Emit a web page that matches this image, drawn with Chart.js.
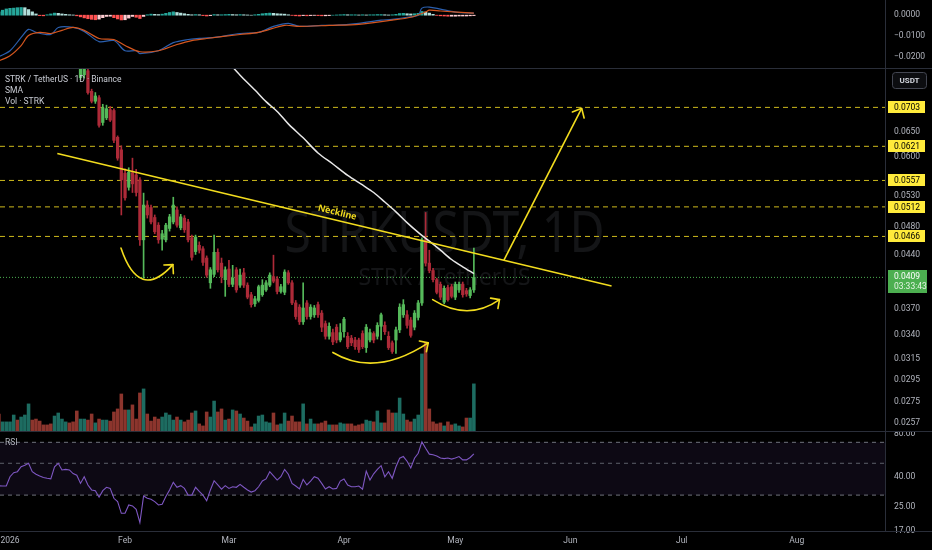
<!DOCTYPE html>
<html lang="en">
<head>
<meta charset="UTF-8">
<title>STRKUSDT 1D</title>
<script src="https://cdn.jsdelivr.net/npm/chart.js"></script>
<style>
  html, body { margin: 0; padding: 0; background: #000; }
  #wrap { position: relative; width: 932px; height: 550px; overflow: hidden; background: #000; }
  #wrap canvas { position: absolute; left: 0; }
</style>
</head>
<body>
<div id="wrap">
  <canvas id="macdChart" width="932" height="68" style="top:0"></canvas>
  <canvas id="priceChart" width="932" height="364" style="top:68px"></canvas>
  <canvas id="rsiChart" width="932" height="118" style="top:432px"></canvas>
</div>
<script>
// day 0 = 1 Jan 2026, first candle is 29 Dec 2025
const firstDay = -3;
const monthDays = [0, 31, 59, 90, 120, 151, 181, 212];
const monthLabels = ['2026', 'Feb', 'Mar', 'Apr', 'May', 'Jun', 'Jul', 'Aug'];

const open = [
  0.0935,0.0912,0.0940,0.0962,0.0978,0.1005,0.0975,0.1002,0.1025,0.1060,
  0.1022,0.0990,0.0972,0.0965,0.0955,0.0945,0.0975,0.1002,0.1010,0.1015,
  0.0985,0.0945,0.0773,0.0780,0.0790,0.0740,0.0717,0.0725,0.0670,0.0680,
  0.0698,0.0696,0.0639,0.0614,0.0570,0.0545,0.0571,0.0567,0.0558,0.0461,
  0.0515,0.0511,0.0495,0.0483,0.0462,0.0461,0.0478,0.0488,0.0507,0.0479,
  0.0494,0.0488,0.0464,0.0444,0.0453,0.0448,0.0435,0.0402,0.0413,0.0443,
  0.0428,0.0406,0.0420,0.0400,0.0419,0.0399,0.0415,0.0399,0.0387,0.0376,
  0.0380,0.0387,0.0393,0.0399,0.0410,0.0407,0.0391,0.0390,0.0415,0.0402,
  0.0377,0.0372,0.0355,0.0377,0.0361,0.0363,0.0375,0.0365,0.0353,0.0339,
  0.0343,0.0349,0.0335,0.0344,0.0339,0.0337,0.0335,0.0335,0.0342,0.0327,
  0.0335,0.0342,0.0339,0.0350,0.0351,0.0339,0.0332,0.0335,0.0346,0.0363,
  0.0363,0.0357,0.0349,0.0360,0.0377,0.0461,0.0428,0.0418,0.0406,0.0400,
  0.0378,0.0396,0.0397,0.0384,0.0393,0.0400,0.0392,0.0386,0.0393
];
const high = [
  0.0950,0.0948,0.0975,0.0990,0.1020,0.1012,0.1015,0.1040,0.1090,0.1070,
  0.1030,0.1000,0.0985,0.0975,0.0968,0.0985,0.1015,0.1020,0.1025,0.1020,
  0.0990,0.0950,0.0830,0.0808,0.0797,0.0745,0.0737,0.0730,0.0710,0.0708,
  0.0705,0.0700,0.0642,0.0622,0.0578,0.0580,0.0598,0.0577,0.0562,0.0535,
  0.0522,0.0515,0.0499,0.0487,0.0475,0.0486,0.0500,0.0528,0.0512,0.0500,
  0.0498,0.0492,0.0468,0.0468,0.0458,0.0451,0.0438,0.0422,0.0468,0.0448,
  0.0435,0.0423,0.0432,0.0425,0.0422,0.0420,0.0421,0.0402,0.0390,0.0385,
  0.0399,0.0406,0.0405,0.0415,0.0439,0.0410,0.0400,0.0419,0.0418,0.0405,
  0.0380,0.0375,0.0402,0.0380,0.0375,0.0374,0.0378,0.0368,0.0356,0.0354,
  0.0347,0.0352,0.0353,0.0360,0.0343,0.0340,0.0338,0.0337,0.0345,0.0352,
  0.0347,0.0344,0.0354,0.0365,0.0355,0.0344,0.0334,0.0349,0.0376,0.0381,
  0.0368,0.0360,0.0368,0.0380,0.0464,0.0503,0.0446,0.0421,0.0408,0.0403,
  0.0398,0.0399,0.0400,0.0403,0.0403,0.0403,0.0395,0.0396,0.0449
];
const low = [
  0.0905,0.0900,0.0930,0.0950,0.0968,0.0962,0.0965,0.0990,0.1015,0.1010,
  0.0975,0.0960,0.0955,0.0948,0.0938,0.0940,0.0968,0.0985,0.0995,0.0975,
  0.0930,0.0800,0.0768,0.0772,0.0733,0.0713,0.0712,0.0660,0.0664,0.0676,
  0.0672,0.0628,0.0594,0.0499,0.0523,0.0540,0.0536,0.0530,0.0453,0.0408,
  0.0494,0.0485,0.0470,0.0456,0.0446,0.0458,0.0474,0.0485,0.0480,0.0476,
  0.0472,0.0458,0.0432,0.0440,0.0442,0.0425,0.0409,0.0395,0.0410,0.0416,
  0.0402,0.0385,0.0397,0.0397,0.0390,0.0396,0.0396,0.0382,0.0372,0.0373,
  0.0378,0.0385,0.0391,0.0397,0.0402,0.0388,0.0389,0.0387,0.0400,0.0375,
  0.0358,0.0352,0.0352,0.0358,0.0358,0.0360,0.0360,0.0344,0.0336,0.0336,
  0.0330,0.0332,0.0333,0.0338,0.0326,0.0329,0.0325,0.0322,0.0326,0.0322,
  0.0333,0.0332,0.0336,0.0335,0.0341,0.0325,0.0321,0.0321,0.0343,0.0360,
  0.0348,0.0338,0.0346,0.0357,0.0374,0.0424,0.0415,0.0403,0.0388,0.0381,
  0.0376,0.0379,0.0383,0.0381,0.0390,0.0384,0.0385,0.0383,0.0390
];
const close = [
  0.0912,0.0940,0.0962,0.0978,0.1005,0.0975,0.1002,0.1025,0.1060,0.1022,
  0.0990,0.0972,0.0965,0.0955,0.0945,0.0975,0.1002,0.1010,0.1015,0.0985,
  0.0945,0.0812,0.0815,0.0798,0.0737,0.0717,0.0729,0.0664,0.0702,0.0700,
  0.0675,0.0633,0.0598,0.0558,0.0527,0.0572,0.0551,0.0536,0.0461,0.0515,
  0.0499,0.0488,0.0473,0.0461,0.0470,0.0483,0.0496,0.0515,0.0483,0.0496,
  0.0476,0.0461,0.0436,0.0465,0.0446,0.0429,0.0412,0.0419,0.0443,0.0419,
  0.0410,0.0419,0.0400,0.0408,0.0393,0.0412,0.0399,0.0384,0.0375,0.0382,
  0.0397,0.0399,0.0402,0.0412,0.0404,0.0391,0.0397,0.0416,0.0402,0.0377,
  0.0361,0.0355,0.0371,0.0361,0.0372,0.0371,0.0363,0.0349,0.0339,0.0350,
  0.0333,0.0335,0.0343,0.0358,0.0328,0.0332,0.0328,0.0325,0.0328,0.0349,
  0.0343,0.0335,0.0351,0.0363,0.0344,0.0327,0.0323,0.0346,0.0372,0.0375,
  0.0351,0.0340,0.0365,0.0377,0.0461,0.0428,0.0418,0.0406,0.0390,0.0384,
  0.0395,0.0381,0.0385,0.0400,0.0400,0.0387,0.0388,0.0393,0.0409
];
const volume = [
  8.9,5.0,5.0,5.0,8.4,5.9,7.4,8.4,13.9,5.9,
  6.4,5.4,3.5,3.5,4.0,7.9,9.4,6.4,5.0,4.5,
  5.0,10.4,6.4,6.4,5.9,8.9,4.5,6.4,5.9,5.9,
  5.4,9.9,11.4,18.8,10.9,10.9,13.4,6.4,19.3,21.3,
  8.9,5.4,7.4,6.4,7.4,9.4,8.4,5.9,7.4,5.9,
  5.0,5.9,9.4,10.4,4.0,3.0,9.9,7.4,15.3,9.9,
  11.4,5.9,6.4,10.9,10.4,8.9,6.9,5.4,2.5,4.0,
  7.9,8.4,5.0,4.5,9.4,3.5,4.0,9.4,5.4,7.9,
  5.0,5.0,13.9,4.0,6.4,4.0,4.0,4.5,5.4,3.5,
  3.5,3.5,4.5,4.0,4.0,4.0,3.0,3.5,4.0,5.9,
  5.4,5.0,10.4,4.5,4.5,10.9,9.4,9.4,16.8,8.9,
  5.9,5.0,6.4,8.4,38.6,44.1,11.4,5.0,4.0,4.5,
  3.0,5.0,3.5,4.0,3.0,2.5,6.9,6.9,23.8
];
const rsi = [
  34.8,34.7,34.7,40.3,43.0,43.7,47.3,48.5,50.0,43.7,
  41.9,40.8,39.8,39.3,38.9,47.3,50.0,44.9,45.3,44.9,
  42.4,41.3,36.2,40.3,35.3,32.6,32.2,29.0,32.2,34.0,
  33.4,28.5,27.0,22.4,22.4,25.6,25.2,23.9,19.3,29.6,
  28.5,28.1,27.0,25.6,25.9,29.3,32.6,36.8,34.0,34.9,
  33.4,30.0,30.0,34.0,31.8,30.0,27.4,32.6,37.8,35.3,
  33.0,34.9,33.4,34.3,34.0,35.6,34.0,32.6,31.5,32.2,
  34.3,37.6,38.9,43.7,40.8,38.2,40.3,45.3,41.9,36.2,
  34.7,33.1,38.6,35.3,37.6,40.3,39.3,36.2,33.1,34.3,
  33.1,33.4,37.6,38.9,35.3,34.3,34.3,34.7,33.0,44.1,
  38.2,42.2,45.3,48.1,40.3,43.7,39.3,47.3,54.2,55.7,
  51.7,46.4,54.2,58.7,70.5,63.6,57.9,57.4,56.2,54.4,
  53.9,54.4,53.5,54.4,55.7,52.8,52.8,54.9,58.2
];
const macdHist = [
  0.0016,0.0024,0.0030,0.0033,0.0034,0.0036,0.0037,0.0036,0.0027,0.0016,
  0.0006,-0.0002,-0.0003,0.0002,0.0006,0.0010,0.0009,0.0006,0.0004,0.0002,
  0.0001,-0.0003,-0.0008,-0.0013,-0.0017,-0.0020,-0.0022,-0.0019,-0.0012,-0.0006,
  -0.0005,-0.0012,-0.0018,-0.0023,-0.0022,-0.0014,-0.0006,-0.0010,-0.0016,-0.0006,
  0.0002,0.0005,0.0004,0.0003,0.0005,0.0009,0.0013,0.0016,0.0013,0.0010,
  0.0007,0.0004,0.0002,0.0003,0.0002,-0.0002,-0.0004,-0.0002,0.0003,0.0002,
  0.0002,0.0003,0.0004,0.0003,0.0002,0.0003,0.0002,0.0001,0.0000,0.0002,
  0.0004,0.0007,0.0009,0.0010,0.0009,0.0007,0.0006,0.0005,0.0002,-0.0001,
  -0.0003,-0.0004,-0.0002,-0.0003,-0.0002,-0.0001,-0.0002,-0.0003,-0.0003,-0.0002,
  0.0000,0.0001,0.0002,0.0003,0.0002,0.0002,0.0002,0.0001,0.0002,0.0001,
  0.0002,0.0002,0.0003,0.0003,0.0002,0.0001,0.0002,0.0004,0.0008,0.0009,
  0.0007,0.0006,0.0007,0.0009,0.0018,0.0015,0.0010,0.0004,-0.0001,-0.0003,
  -0.0004,-0.0005,-0.0005,-0.0005,-0.0004,-0.0004,-0.0004,-0.0003,-0.0002
];
const macdDays = [-3,0,3,5,7,11,13,17,20,24,28,31,34,35,40,44,48,51,55,62,67,71,75,78,84,87,94,100,103,107,110,111,113,116,120,125];
const macdLine = [-0.0200,-0.0171,-0.0107,-0.0068,-0.0083,-0.0093,-0.0059,-0.0059,-0.0078,-0.0127,-0.0122,-0.0171,-0.0171,-0.0185,-0.0171,-0.0132,-0.0117,-0.0112,-0.0107,-0.0088,-0.0083,-0.0054,-0.0039,-0.0054,-0.0049,-0.0049,-0.0039,-0.0024,-0.0020,-0.0010,0.0000,0.0034,0.0039,0.0029,0.0015,0.0010];
const signalDays = [-3,0,3,5,8,11,14,17,20,24,28,31,35,40,45,49,53,62,67,74,78,86,94,103,108,112,113,116,125];
const signalLine = [-0.0220,-0.0195,-0.0146,-0.0098,-0.0083,-0.0088,-0.0073,-0.0059,-0.0073,-0.0112,-0.0117,-0.0146,-0.0176,-0.0171,-0.0141,-0.0122,-0.0112,-0.0093,-0.0083,-0.0049,-0.0054,-0.0049,-0.0044,-0.0024,-0.0010,0.0015,0.0024,0.0020,0.0010];
const smaDays = [59,62,66,69,72,75,79,83,87,91,95,98,101,104,107,110,113,116,119,122,125];
const smaValues = [0.0810,0.0779,0.0743,0.0716,0.0694,0.0667,0.0638,0.0608,0.0587,0.0566,0.0549,0.0536,0.0520,0.0504,0.0487,0.0472,0.0459,0.0446,0.0433,0.0423,0.0414];

const priceTicks = [0.0650, 0.0600, 0.0530, 0.0480, 0.0440, 0.0370, 0.0340, 0.0315, 0.0295, 0.0275, 0.0257];
const rsiTicks = [80, 40, 25, 17];
const rsiBands = [70, 50, 30];
const macdTicks = [0, -0.01, -0.02];
const levels = [0.0703, 0.0621, 0.0557, 0.0512, 0.0466];
const countdown = '03:33:43';

// drawings, in [day, price]
const necklinePts = [[12.75, 0.0607], [162.1, 0.0398]];
const necklineLabelDay = 87.7;
const targetPts = [[133.1, 0.0432], [154.05, 0.0701]];
const bottomCurves = [
  [[29.9, 0.0449], [34.8, 0.0378], [43.9, 0.0426]],
  [[87.0, 0.0322], [98.4, 0.0297], [112.7, 0.0332]],
  [[113.9, 0.0381], [123.4, 0.0355], [131.9, 0.0381]]
];
const legendLines = ['STRK / TetherUS \u00b7 1D \u00b7 Binance', 'SMA', 'Vol \u00b7 STRK'];
const watermark = ['STRKUSDT, 1D', 'STRK / TetherUS'];

const X_MIN = -2.695, X_MAX = 235.79;
const UP = '#55b95a', DOWN = '#ad2a38';
const VOL_UP = '#1d6c61', VOL_DOWN = '#8c352d';
const YELLOW = '#f2dc1e';
const LINE_GRAY = '#2a2e39';
const AXIS_TXT = '#b2b5be';

Chart.defaults.font.family = 'Roboto, "Noto Sans", sans-serif';
Chart.defaults.font.size = 8.5;
Chart.defaults.color = AXIS_TXT;
Chart.defaults.animation = false;
Chart.defaults.events = [];
Chart.defaults.plugins.legend.display = false;
Chart.defaults.plugins.tooltip.enabled = false;

const days = close.map((_, i) => firstDay + i);
const isUp = close.map((c, i) => c >= open[i]);
const lastPrice = close[close.length - 1];

function hiddenX() {
  return { type: 'linear', min: X_MIN, max: X_MAX, offset: false, bounds: 'data', display: false };
}
function rightAxis(type, min, max, ticks, fmt) {
  return {
    type, min, max, position: 'right', bounds: 'data',
    grid: { display: false, drawTicks: false },
    border: { display: true, color: LINE_GRAY },
    afterBuildTicks(s) { s.ticks = ticks.map(v => ({ value: v })); },
    ticks: { autoSkip: false, padding: 9, color: AXIS_TXT, font: { size: 8.5 }, callback: fmt },
    afterFit(s) { s.width = 47; s.paddingTop = 0; s.paddingBottom = 0; }
  };
}
function hLine(ctx, y, x0, x1) {
  ctx.beginPath(); ctx.moveTo(x0, y); ctx.lineTo(x1, y); ctx.stroke();
}
function arrowHead(ctx, from, tip, len, spread) {
  const a = Math.atan2(tip[1] - from[1], tip[0] - from[0]);
  ctx.beginPath();
  ctx.moveTo(tip[0] - len * Math.cos(a - spread), tip[1] - len * Math.sin(a - spread));
  ctx.lineTo(tip[0], tip[1]);
  ctx.lineTo(tip[0] - len * Math.cos(a + spread), tip[1] - len * Math.sin(a + spread));
  ctx.stroke();
}

// ---- MACD pane ----
const histColors = macdHist.map((v, i) => {
  const prev = i > 0 ? macdHist[i - 1] : v;
  if (v >= 0) return v >= prev ? '#26a69a' : '#b2dfdb';
  return v < prev ? '#ff5252' : '#ffcdd2';
});
new Chart(document.getElementById('macdChart'), {
  type: 'bar',
  data: {
    datasets: [
      { type: 'bar', data: days.map((d, i) => ({ x: d, y: macdHist[i] })), backgroundColor: histColors,
        barThickness: 2.6, grouped: false, order: 3, clip: 0 },
      { type: 'line', data: macdDays.map((d, i) => ({ x: d, y: macdLine[i] })), borderColor: '#2b5fae',
        borderWidth: 1.2, pointRadius: 0, tension: 0.3, order: 2, clip: 0 },
      { type: 'line', data: signalDays.map((d, i) => ({ x: d, y: signalLine[i] })), borderColor: '#d4561f',
        borderWidth: 1.2, pointRadius: 0, tension: 0.3, order: 1, clip: 0 }
    ]
  },
  options: {
    responsive: false,
    layout: { padding: 0 },
    scales: {
      x: hiddenX(),
      y: rightAxis('linear', -0.0254, 0.0073, macdTicks,
        v => v === 0 ? '0.0000' : (v < 0 ? '\u2212' : '') + Math.abs(v).toFixed(4))
    }
  }
});

// ---- price pane ----
const priceOverlay = {
  id: 'priceOverlay',
  beforeDatasetsDraw(chart) {
    const { ctx, chartArea: a } = chart;
    const cx = (a.left + a.right) / 2 + 2;
    ctx.save();
    ctx.fillStyle = 'rgba(125,128,140,0.16)';
    ctx.textAlign = 'center';
    ctx.textBaseline = 'alphabetic';
    ctx.font = '56px "Noto Sans"';
    ctx.fillText(watermark[0], cx, 184, 320);
    ctx.font = '24px "Noto Sans"';
    ctx.fillText(watermark[1], cx, 217, 172);
    ctx.restore();
  },
  afterDatasetsDraw(chart) {
    const { ctx, chartArea: a, scales: { x, y } } = chart;
    const px = p => [x.getPixelForValue(p[0]), y.getPixelForValue(p[1])];
    ctx.save();
    ctx.beginPath(); ctx.rect(a.left, a.top, a.right - a.left, a.bottom - a.top); ctx.clip();
    ctx.strokeStyle = YELLOW; ctx.lineWidth = 1.6; ctx.lineCap = 'round'; ctx.lineJoin = 'round';
    bottomCurves.forEach(c => {
      const [p0, p1, p2] = c.map(px);
      ctx.beginPath(); ctx.moveTo(p0[0], p0[1]); ctx.quadraticCurveTo(p1[0], p1[1], p2[0], p2[1]); ctx.stroke();
      arrowHead(ctx, p1, p2, 9, Math.PI / 4);
    });
    arrowHead(ctx, px(targetPts[0]), px(targetPts[1]), 10, 0.72);
    const n0 = px(necklinePts[0]), n1 = px(necklinePts[1]);
    const ang = Math.atan2(n1[1] - n0[1], n1[0] - n0[0]);
    const lx = x.getPixelForValue(necklineLabelDay);
    const ly = n0[1] + (lx - n0[0]) * Math.tan(ang);
    ctx.translate(lx, ly); ctx.rotate(ang);
    ctx.fillStyle = YELLOW; ctx.font = 'bold 9px "Noto Sans"';
    ctx.textAlign = 'center'; ctx.textBaseline = 'bottom';
    ctx.fillText('Neckline', 0, -3);
    ctx.restore();
  },
  afterDraw(chart) {
    const { ctx, scales: { y } } = chart;
    ctx.save();
    // legend
    ctx.font = '8.5px Roboto'; ctx.fillStyle = '#c8cbd3'; ctx.textBaseline = 'middle'; ctx.textAlign = 'left';
    legendLines.forEach((t, i) => ctx.fillText(t, 5, 12 + i * 11));
    // level boxes
    ctx.font = '8.5px Roboto';
    levels.forEach(l => {
      const py = Math.round(y.getPixelForValue(l));
      ctx.fillStyle = '#ffeb3b'; ctx.fillRect(888, py - 6, 37, 12);
      ctx.fillStyle = '#000'; ctx.fillText(l.toFixed(4), 894, py + 0.5);
    });
    // last price box
    const lp = Math.round(y.getPixelForValue(lastPrice));
    ctx.fillStyle = '#4caf50'; ctx.fillRect(888, lp - 7, 39, 23);
    ctx.fillStyle = '#ffffff'; ctx.fillText(lastPrice.toFixed(4), 894, lp);
    ctx.fillStyle = '#e6f4e6'; ctx.fillText(countdown, 894, lp + 10);
    // currency box
    ctx.strokeStyle = '#434651'; ctx.lineWidth = 1; ctx.fillStyle = '#0c0d10';
    ctx.beginPath();
    if (ctx.roundRect) ctx.roundRect(892.5, 4.5, 34, 16, 3); else ctx.rect(892.5, 4.5, 34, 16);
    ctx.fill(); ctx.stroke();
    ctx.fillStyle = '#d1d4dc'; ctx.textAlign = 'center'; ctx.font = 'bold 8px Roboto';
    ctx.fillText('USDT', 909.5, 12.8);
    // pane separators
    ctx.strokeStyle = LINE_GRAY;
    hLine(ctx, 0.5, 0, 932);
    hLine(ctx, chart.height - 0.5, 0, 932);
    ctx.restore();
  }
};

const levelSets = levels.map(l => ({
  type: 'line', data: [{ x: X_MIN, y: l }, { x: X_MAX, y: l }], borderColor: '#cdb91c',
  borderWidth: 1, borderDash: [5, 4], pointRadius: 0, order: 15, clip: 0
}));

new Chart(document.getElementById('priceChart'), {
  type: 'bar',
  data: {
    datasets: [
      { type: 'bar', yAxisID: 'vol', data: days.map((d, i) => ({ x: d, y: volume[i] })),
        backgroundColor: isUp.map(u => u ? VOL_UP : VOL_DOWN), barThickness: 2.9, grouped: false, order: 20, clip: 0 },
      ...levelSets,
      { type: 'line', data: [{ x: X_MIN, y: lastPrice }, { x: X_MAX, y: lastPrice }], borderColor: '#4caf50',
        borderWidth: 1, borderDash: [1, 2], pointRadius: 0, order: 14, clip: 0 },
      { type: 'bar', data: days.map((d, i) => ({ x: d, y: [low[i], high[i]] })),
        backgroundColor: isUp.map(u => u ? UP : DOWN), barThickness: 1, grouped: false, order: 10, clip: 0 },
      { type: 'bar', data: days.map((d, i) => ({ x: d, y: [open[i], close[i]] })),
        backgroundColor: isUp.map(u => u ? UP : DOWN), barThickness: 2.6, minBarLength: 1, grouped: false, order: 9, clip: 0 },
      { type: 'line', data: smaDays.map((d, i) => ({ x: d, y: smaValues[i] })), borderColor: '#e8e8e8',
        borderWidth: 1.5, pointRadius: 0, tension: 0.3, order: 6, clip: 0 },
      { type: 'line', data: necklinePts.map(p => ({ x: p[0], y: p[1] })), borderColor: YELLOW,
        borderWidth: 1.6, pointRadius: 0, order: 4, clip: 0 },
      { type: 'line', data: targetPts.map(p => ({ x: p[0], y: p[1] })), borderColor: YELLOW,
        borderWidth: 1.6, pointRadius: 0, order: 3, clip: 0 }
    ]
  },
  options: {
    responsive: false,
    layout: { padding: 0 },
    scales: {
      x: hiddenX(),
      y: rightAxis('logarithmic', 0.02499, 0.0797, priceTicks, v => v.toFixed(4)),
      vol: { type: 'linear', min: 0, max: 180, display: false, bounds: 'data' }
    }
  },
  plugins: [priceOverlay]
});

// ---- RSI pane ----
const rsiOverlay = {
  id: 'rsiOverlay',
  afterDraw(chart) {
    const { ctx, chartArea: a } = chart;
    ctx.save();
    ctx.font = '8.5px Roboto'; ctx.fillStyle = AXIS_TXT; ctx.textBaseline = 'middle';
    ctx.fillText('RSI', 5, 11);
    ctx.strokeStyle = LINE_GRAY;
    hLine(ctx, a.bottom + 0.5, 0, 932);
    ctx.restore();
  }
};
new Chart(document.getElementById('rsiChart'), {
  type: 'line',
  data: {
    datasets: [
      { data: [{ x: X_MIN, y: rsiBands[0] }, { x: X_MAX, y: rsiBands[0] }], fill: { value: rsiBands[2] },
        backgroundColor: 'rgba(126,87,194,0.1)', borderColor: '#6f727c', borderWidth: 1, borderDash: [4, 4],
        pointRadius: 0, order: 5, clip: 0 },
      { data: [{ x: X_MIN, y: rsiBands[1] }, { x: X_MAX, y: rsiBands[1] }], borderColor: '#5d606a',
        borderWidth: 1, borderDash: [4, 4], pointRadius: 0, order: 4, clip: 0 },
      { data: [{ x: X_MIN, y: rsiBands[2] }, { x: X_MAX, y: rsiBands[2] }], borderColor: '#6f727c',
        borderWidth: 1, borderDash: [4, 4], pointRadius: 0, order: 4, clip: 0 },
      { data: days.map((d, i) => ({ x: d, y: rsi[i] })), borderColor: '#7e57c2', borderWidth: 1.1,
        pointRadius: 0, tension: 0, order: 1, clip: 0 }
    ]
  },
  options: {
    responsive: false,
    layout: { padding: 0 },
    scales: {
      x: {
        type: 'linear', min: X_MIN, max: X_MAX, offset: false, bounds: 'data', position: 'bottom',
        grid: { display: false, drawTicks: false },
        border: { display: true, color: LINE_GRAY },
        afterBuildTicks(s) { s.ticks = monthDays.map(v => ({ value: v })); },
        ticks: { autoSkip: false, maxRotation: 0, padding: 5, color: AXIS_TXT, font: { size: 8.5 },
          callback: (v, i) => monthLabels[i] },
        afterFit(s) { s.height = 19; s.paddingLeft = 0; s.paddingRight = 0; }
      },
      y: rightAxis('logarithmic', 16.86, 82.6, rsiTicks, v => v.toFixed(2))
    }
  },
  plugins: [rsiOverlay]
});
</script>
</body>
</html>
